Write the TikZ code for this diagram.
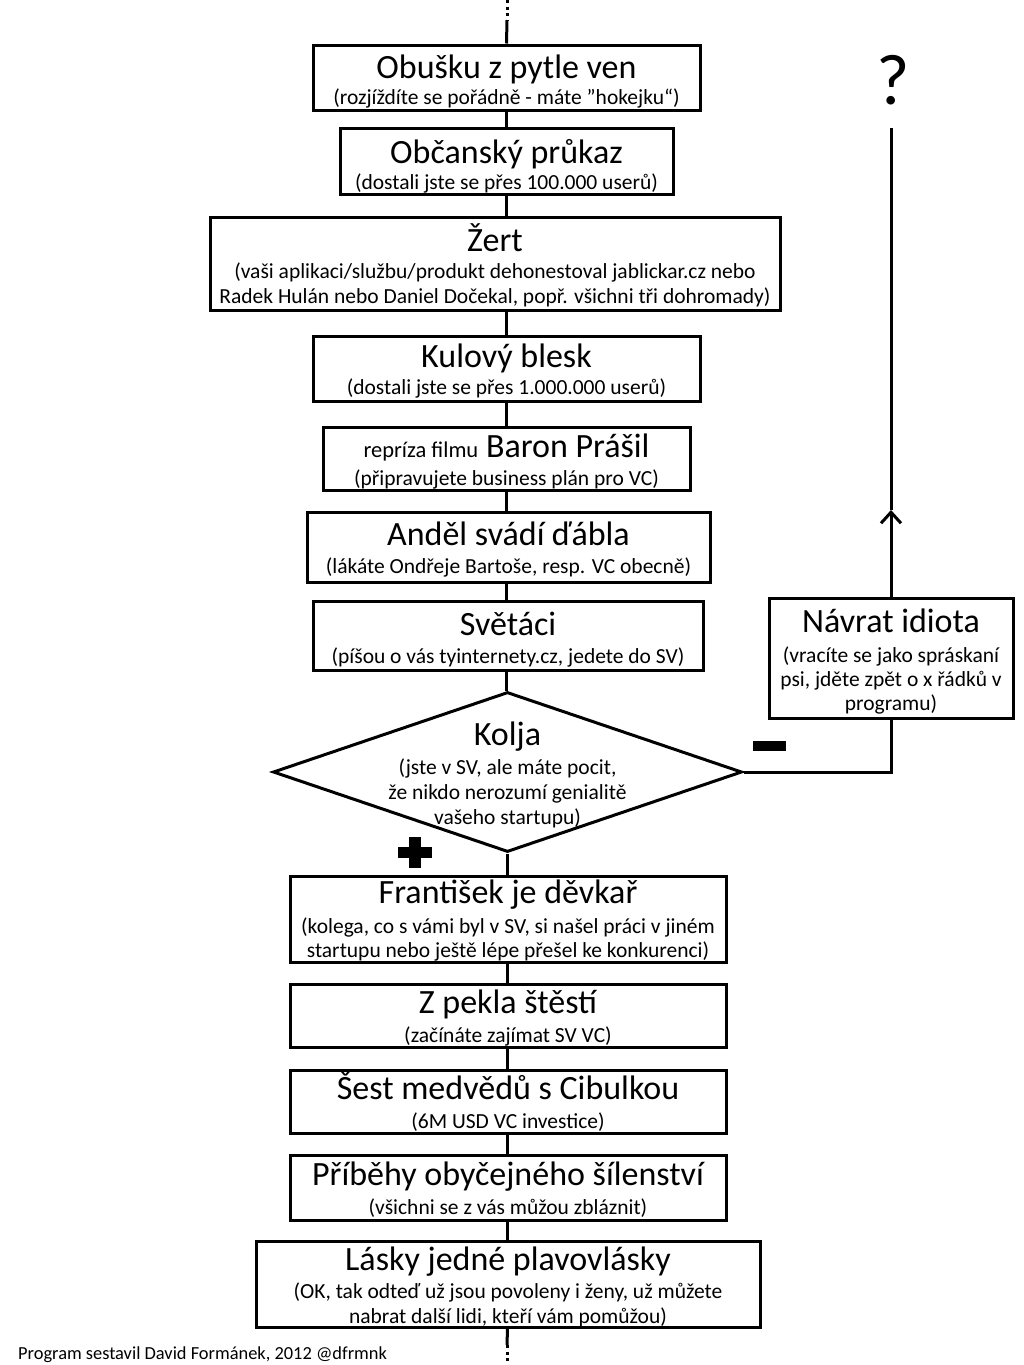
\documentclass[tikz,border=0pt]{standalone}
\usepackage{fontspec}
\setmainfont{Carlito}
\usetikzlibrary{shapes.geometric,arrows.meta}
\begin{document}
\begin{tikzpicture}[x=1pt,y=-1pt,
  box/.style={draw=black,line width=3pt,rectangle,inner sep=0pt,fill=white},
  ttl/.style={anchor=base,inner sep=0pt,font=\fontsize{34}{38}\selectfont},
  sub/.style={anchor=base,inner sep=0pt,font=\fontsize{21.5}{24}\selectfont},
  conn/.style={line width=3pt},
  dotline/.style={line width=3pt,dash pattern=on 3pt off 3.5pt}]
\useasboundingbox (0,0) rectangle (1024,1365);
% boxes
\node[box,minimum width=387pt,minimum height=65pt] (b1) at (506.5,77.5) {};
\node[box,minimum width=333pt,minimum height=66pt] (b2) at (506.5,161) {};
\node[box,minimum width=570pt,minimum height=93pt] (b3) at (495,263.5) {};
\node[box,minimum width=387pt,minimum height=65pt] (b4) at (506.5,368.5) {};
\node[box,minimum width=367pt,minimum height=63pt] (b5) at (506.5,458.5) {};
\node[box,minimum width=403pt,minimum height=70pt] (b6) at (508.5,547) {};
\node[box,minimum width=390pt,minimum height=69pt] (b7) at (508,635.5) {};
\node[draw=black,line width=3pt,diamond,inner sep=0pt,minimum width=469pt,minimum height=160pt,fill=white] (kolja) at (507.5,772) {};
\node[box,minimum width=436pt,minimum height=86pt] (b9) at (508,919) {};
\node[box,minimum width=436pt,minimum height=63pt] (b10) at (508,1015.5) {};
\node[box,minimum width=436pt,minimum height=63pt] (b11) at (508,1101.5) {};
\node[box,minimum width=436pt,minimum height=65pt] (b12) at (508,1187.5) {};
\node[box,minimum width=504pt,minimum height=86pt] (b13) at (508,1284) {};
\node[box,minimum width=244pt,minimum height=120pt] (navrat) at (891,658) {};
% connectors
\coordinate (topdot) at (507,0);
\coordinate (topsolid) at (507,20);
\coordinate (botsolid) at (507,1345);
\coordinate (botdot) at (507,1365);
\draw[dotline] (topdot) -- (topsolid);
\draw[conn] (topsolid) -- (b1.north);
\draw[conn] (b1.south) -- (b2.north);
\draw[conn] (b2.south) -- (b2.south |- b3.north);
\draw[conn] (b2.south |- b3.south) -- (b4.north);
\draw[conn] (b4.south) -- (b5.north);
\draw[conn] (b5.south) -- (b5.south |- b6.north);
\draw[conn] (b5.south |- b6.south) -- (b5.south |- b7.north);
\draw[conn] (b5.south |- b7.south) -- (b5.south |- kolja.north);
\draw[conn] (kolja.south) -- (kolja.south |- b9.north);
\draw[conn] (kolja.south |- b9.south) -- (kolja.south |- b10.north);
\draw[conn] (kolja.south |- b10.south) -- (kolja.south |- b11.north);
\draw[conn] (kolja.south |- b11.south) -- (kolja.south |- b12.north);
\draw[conn] (kolja.south |- b12.south) -- (kolja.south |- b13.north);
\draw[conn] (kolja.south |- b13.south) -- (botsolid);
\draw[dotline] (botsolid) -- (botdot);
\coordinate (arrowtip) at (891,510);
\coordinate (loopend) at (891,128);
\draw[conn] (kolja.east) -| (navrat.south);
\draw[conn,-{Straight Barb[length=11pt,width=20pt,line width=3pt]}] (navrat.north) -- (arrowtip);
\draw[conn] (arrowtip) -- (loopend);
% plus / minus
\fill (753,741) rectangle (786,751);
\fill (409,837) rectangle (421,868);
\fill (398,847) rectangle (432,858);
% texts
\node[ttl] (t1) at (506.5,78) {Obušku z pytle ven};
\node[sub] (s1) at (506.5,104) {(rozjíždíte se pořádně - máte "hokejku“)};
\node[ttl] (t2) at (506.5,163) {Občanský průkaz};
\node[sub] (s2) at (506.5,189) {(dostali jste se přes 100.000 userů)};
\node[ttl] (t3) at (495,251) {Žert};
\node[sub] (s3a) at (495,278) {(vaši aplikaci/službu/produkt dehonestoval jablickar.cz nebo};
\node[sub] (s3b) at (495,303) {Radek Hulán nebo Daniel Dočekal, popř. všichni tři dohromady)};
\node[ttl] (t4) at (506.5,367) {Kulový blesk};
\node[sub] (s4) at (506.5,394) {(dostali jste se přes 1.000.000 userů)};
\node[ttl] (t5) at (506.5,457) {{\fontsize{22.5}{26}\selectfont repríza filmu} Baron Prášil};
\node[sub] (s5) at (506.5,485) {(připravujete business plán pro VC)};
\node[ttl] (t6) at (508.5,545) {Anděl svádí ďábla};
\node[sub] (s6) at (508.5,573) {(lákáte Ondřeje Bartoše, resp. VC obecně)};
\node[ttl] (t7) at (508,635) {Světáci};
\node[sub] (s7) at (508,663) {(píšou o vás tyinternety.cz, jedete do SV)};
\node[ttl] (t8) at (507.5,745) {Kolja};
\node[sub] (s8a) at (507.5,774) {(jste v SV, ale máte pocit,};
\node[sub] (s8b) at (507.5,799) {že nikdo nerozumí genialitě};
\node[sub] (s8c) at (507.5,824) {vašeho startupu)};
\node[ttl] (t9) at (508,903) {František je děvkař};
\node[sub] (s9a) at (508,933) {(kolega, co s vámi byl v SV, si našel práci v jiném};
\node[sub] (s9b) at (508,957) {startupu nebo ještě lépe přešel ke konkurenci)};
\node[ttl] (t10) at (508,1013) {Z pekla štěstí};
\node[sub] (s10) at (508,1042) {(začínáte zajímat SV VC)};
\node[ttl] (t11) at (508,1099) {Šest medvědů s Cibulkou};
\node[sub] (s11) at (508,1128) {(6M USD VC investice)};
\node[ttl] (t12) at (508,1185) {Příběhy obyčejného šílenství};
\node[sub] (s12) at (508,1214) {(všichni se z vás můžou zbláznit)};
\node[ttl] (t13) at (508,1270) {Lásky jedné plavovlásky};
\node[sub] (s13a) at (508,1298) {(OK, tak odteď už jsou povoleny i ženy, už můžete};
\node[sub] (s13b) at (508,1323) {nabrat další lidi, kteří vám pomůžou)};
\node[ttl] (tn) at (891,632) {Návrat idiota};
\node[sub] (sna) at (891,662) {(vracíte se jako spráskaní};
\node[sub] (snb) at (891,686) {psi, jděte zpět o x řádků v};
\node[sub] (snc) at (891,710) {programu)};
\node[anchor=base,inner sep=0pt,font=\fontsize{72}{76}\selectfont] (q) at (893,104) {?};
\node[anchor=base west,inner sep=0pt,font=\fontsize{18.4}{20}\selectfont] (foot) at (18,1359) {Program sestavil David Formánek, 2012 @dfrmnk};
\end{tikzpicture}
\end{document}
